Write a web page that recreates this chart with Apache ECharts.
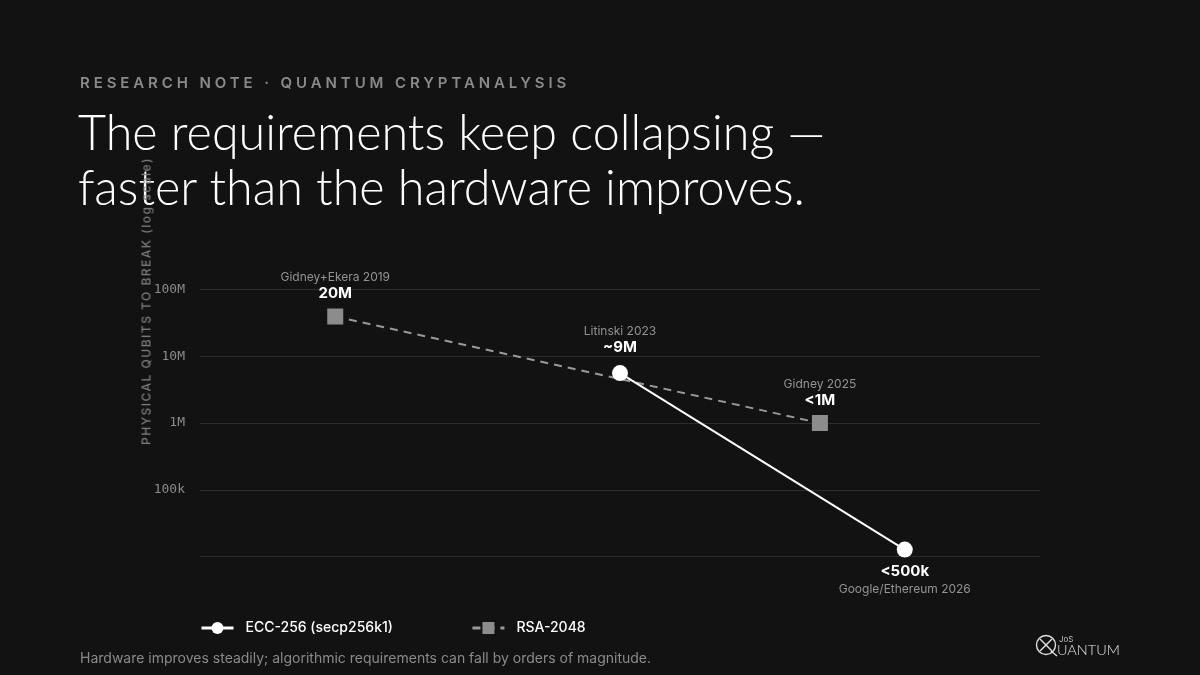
<!DOCTYPE html>
<html>
<head>
<meta charset="utf-8">
<script src="https://cdn.jsdelivr.net/npm/echarts@6/dist/echarts.min.js"></script>
<style>
  html, body { margin: 0; padding: 0; background: #121212; }
  #wrap { position: relative; width: 1200px; height: 675px; background: #121212; overflow: hidden; }
  #chart { position: absolute; left: 0; top: 0; width: 1200px; height: 675px; }
  .kicker { position: absolute; left: 80px; top: 73px; font-family: Inter, sans-serif; font-size: 15px; font-weight: 600; letter-spacing: 3.9px; color: #8a8a8a; white-space: nowrap; }
  .title { position: absolute; left: 78px; top: 104px; font-family: Lato, sans-serif; font-weight: 300; font-size: 48.5px; line-height: 55px; color: #ffffff; white-space: nowrap; }
  .yname { position: absolute; left: 146px; top: 301px; transform: translate(-50%, -50%) rotate(-90deg); font-family: Inter, sans-serif; font-size: 12px; font-weight: 500; letter-spacing: 1.5px; color: #7c7c7c; white-space: nowrap; z-index: 2; }
  .foot { position: absolute; left: 80px; top: 649px; font-family: Inter, sans-serif; font-size: 14px; color: #8a8a8a; white-space: nowrap; }
</style>
</head>
<body>
<div id="wrap">
  <div id="chart"></div>
  <div class="kicker">RESEARCH NOTE · QUANTUM CRYPTANALYSIS</div>
  <div class="title">The requirements keep collapsing —<br>faster than the hardware improves.</div>
  <div class="yname">PHYSICAL QUBITS TO BREAK (log scale)</div>
  <div class="foot">Hardware improves steadily; algorithmic requirements can fall by orders of magnitude.</div>
</div>
<script>
// ---- data ----
const seriesNames = ['ECC-256 (secp256k1)', 'RSA-2048'];
const eccYears   = [2023.0, 2026.39];
const eccQubits  = [5.6e6, 1.27e4];
const eccSources = ['Litinski 2023', 'Google/Ethereum 2026'];
const eccLabels  = ['~9M', '<500k'];
const rsaYears   = [2019.61, 2025.38];
const rsaQubits  = [3.94e7, 1.0e6];
const rsaSources = ['Gidney+Ekera 2019', 'Gidney 2025'];
const rsaLabels  = ['20M', '<1M'];
const yTickLabels = { 100000000: '100M', 10000000: '10M', 1000000: '1M', 100000: '100k' };

const rich = {
  a: { fontFamily: 'Inter', fontSize: 12, color: '#939393', lineHeight: 16, align: 'center' },
  b: { fontFamily: 'Inter', fontSize: 15, fontWeight: 'bold', color: '#ffffff', lineHeight: 16, align: 'center' },
  c: { fontFamily: 'Inter', fontSize: 12, color: '#939393', lineHeight: 20, align: 'center' }
};

const eccData = eccYears.map((x, i) => ({
  value: [x, eccQubits[i]],
  label: i === 0
    ? { show: true, position: 'top', distance: 10, formatter: '{a|' + eccSources[i] + '}\n{b|' + eccLabels[i] + '}', rich }
    : { show: true, position: 'bottom', distance: 6, formatter: '{b|' + eccLabels[i] + '}\n{c|' + eccSources[i] + '}', rich }
}));
const rsaData = rsaYears.map((x, i) => ({
  value: [x, rsaQubits[i]],
  label: { show: true, position: 'top', distance: 7, formatter: '{a|' + rsaSources[i] + '}\n{b|' + rsaLabels[i] + '}', rich }
}));

const chart = echarts.init(document.getElementById('chart'), null, { renderer: 'canvas' });
chart.setOption({
  backgroundColor: '#121212',
  animation: false,
  grid: { left: 200, right: 160, top: 289.5, bottom: 118.5, containLabel: false },
  xAxis: {
    type: 'value', min: 2018, max: 2028,
    axisLine: { show: false }, axisTick: { show: false }, axisLabel: { show: false }, splitLine: { show: false }
  },
  yAxis: {
    type: 'log', logBase: 10, min: 1e4, max: 1e8, splitNumber: 4,
    axisLine: { show: false }, axisTick: { show: false },
    axisLabel: {
      margin: 15, color: '#8a8a8a', fontFamily: 'DejaVu Sans Mono', fontSize: 13,
      formatter: v => yTickLabels[Math.round(v)] || ''
    },
    splitLine: { show: true, lineStyle: { color: '#2c2c2c', width: 1 } }
  },
  legend: {
    left: 200, top: 621, padding: 0, itemWidth: 32, itemHeight: 15, itemGap: 78,
    lineStyle: { width: 3 },
    textStyle: { color: '#ffffff', fontFamily: 'Inter', fontSize: 14, fontWeight: 500, padding: [0, 0, 0, 7] },
    data: seriesNames
  },
  series: [
    {
      name: seriesNames[1], type: 'line', z: 2,
      symbol: 'rect', symbolSize: 16,
      itemStyle: { color: '#8c8c8c' },
      lineStyle: { color: '#999999', width: 2, type: [8, 6] },
      data: rsaData
    },
    {
      name: seriesNames[0], type: 'line', z: 3,
      symbol: 'circle', symbolSize: 16,
      itemStyle: { color: '#ffffff' },
      lineStyle: { color: '#ffffff', width: 2 },
      data: eccData
    }
  ],
  graphic: [
    { type: 'circle', shape: { cx: 1046, cy: 645, r: 9.5 }, style: { fill: 'none', stroke: '#e0e0e0', lineWidth: 1.4 } },
    { type: 'line', shape: { x1: 1040, y1: 639, x2: 1052, y2: 651 }, style: { stroke: '#e0e0e0', lineWidth: 1.4 } },
    { type: 'line', shape: { x1: 1052, y1: 639, x2: 1040, y2: 651 }, style: { stroke: '#e0e0e0', lineWidth: 1.4 } },
    { type: 'line', shape: { x1: 1051, y1: 651, x2: 1057, y2: 656 }, style: { stroke: '#e0e0e0', lineWidth: 1.4 } },
    { type: 'text', x: 1057, y: 650.5, style: { text: 'UANTUM', fill: '#e0e0e0', font: '300 14.5px Lato', textVerticalAlign: 'middle' } },
    { type: 'text', x: 1059, y: 640, style: { text: 'JoS', fill: '#bdbdbd', font: '8px Inter', textVerticalAlign: 'middle' } }
  ]
});
</script>
</body>
</html>
